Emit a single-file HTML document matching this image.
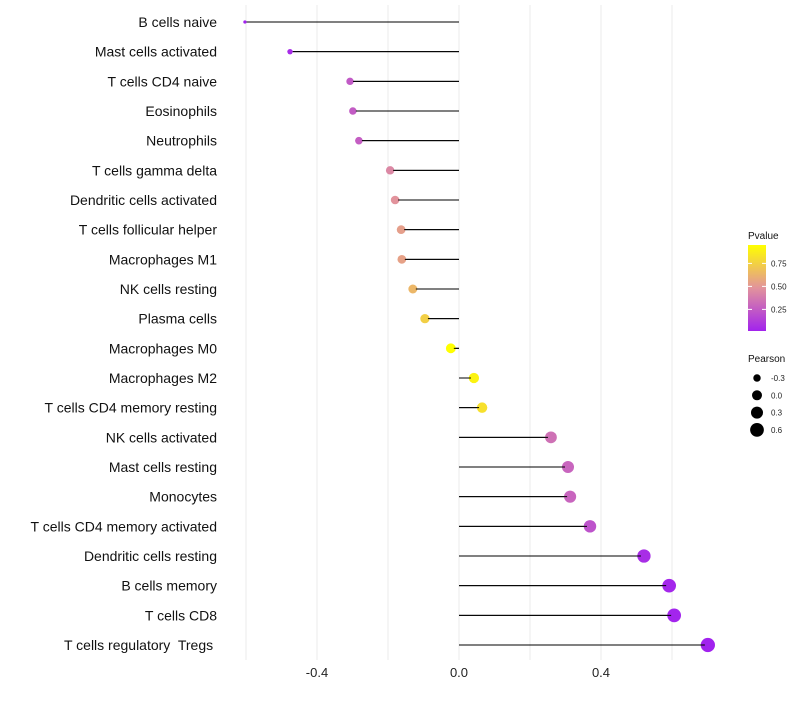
<!DOCTYPE html>
<html><head><meta charset="utf-8"><style>
body{margin:0;background:#fff;font-family:"Liberation Sans",sans-serif}
text{white-space:pre}
</style></head><body>
<svg id="chart" width="800" height="700" xmlns="http://www.w3.org/2000/svg"></svg>
<script>
const categories=["B cells naive","Mast cells activated","T cells CD4 naive","Eosinophils","Neutrophils","T cells gamma delta","Dendritic cells activated","T cells follicular helper","Macrophages M1","NK cells resting","Plasma cells","Macrophages M0","Macrophages M2","T cells CD4 memory resting","NK cells activated","Mast cells resting","Monocytes","T cells CD4 memory activated","Dendritic cells resting","B cells memory","T cells CD8","T cells regulatory  Tregs "];
const pearson=[-0.603,-0.476,-0.307,-0.299,-0.282,-0.194,-0.180,-0.163,-0.161,-0.130,-0.096,-0.023,0.042,0.065,0.259,0.307,0.313,0.369,0.521,0.592,0.606,0.701];
const pvalue=[0.01,0.05,0.25,0.26,0.27,0.45,0.5,0.55,0.56,0.65,0.75,0.95,0.9,0.82,0.35,0.3,0.3,0.22,0.06,0.03,0.02,0.01];
const xTicks=[-0.4,0.0,0.4];
const xMinor=[-0.6,-0.2,0.2,0.6];
const legendSizes=[-0.3,0.0,0.3,0.6];
const pTicks=[0.25,0.5,0.75];

const svg=document.getElementById('chart');
const NS='http://www.w3.org/2000/svg';
const x=v=>459+v*355;
const y=i=>22+i*(623/21);
const r=v=>Math.sqrt(Math.max(1,25+37*v));
function lerp(a,b,t){return a.map((c,k)=>Math.round(c+(b[k]-c)*t));}
function col(p){const s0=[160,32,240],s1=[226,147,156],s2=[255,255,0];
 let c=p<0.5?lerp(s0,s1,p/0.5):lerp(s1,s2,Math.min(1,(p-0.5)/0.45));return `rgb(${c})`;}
function el(t,a){const e=document.createElementNS(NS,t);for(const k in a)e.setAttribute(k,a[k]);svg.appendChild(e);return e;}
[...xTicks,...xMinor].forEach(v=>{const g=el('line',{x1:x(v),x2:x(v),y1:5,y2:660,stroke:'#ebebeb','stroke-width':1});

});
xTicks.forEach(v=>{const t=el('text',{x:x(v),y:677,'text-anchor':'middle','font-size':13,fill:'#222'});t.textContent=v.toFixed(1);

});
categories.forEach((c,i)=>{
 const t=el('text',{x:217,y:y(i)+5,'text-anchor':'end','font-size':14,fill:'#111'});t.textContent=c;
 
 
 const l=el('line',{x1:x(0),x2:x(pearson[i]),y1:y(i),y2:y(i),stroke:'#000','stroke-width':1});
 
 
 const p=el('circle',{cx:x(pearson[i]),cy:y(i),r:r(pearson[i]),fill:col(pvalue[i])});
 
 
 const l2=el('line',{x1:x(0),x2:x(pearson[i])+(pearson[i]<0?3:-3),y1:y(i),y2:y(i),stroke:'#000','stroke-width':1});
 
 
});
let tt=el('text',{x:748,y:239,'font-size':10,fill:'#111'});tt.textContent='Pvalue';


const defs=el('defs',{});
const lg=document.createElementNS(NS,'linearGradient');lg.setAttribute('id','pg');lg.setAttribute('x1','0');lg.setAttribute('y1','1');lg.setAttribute('x2','0');lg.setAttribute('y2','0');
[[0,0.015],[0.5,0.5],[1,0.95]].forEach(([o,p])=>{const s=document.createElementNS(NS,'stop');s.setAttribute('offset',o);s.setAttribute('stop-color',col(p));lg.appendChild(s);});
defs.appendChild(lg);
const cb=el('rect',{x:748,y:245,width:18,height:86,fill:'url(#pg)'});


const py=p=>331-(p-0.015)*(86/0.935);
pTicks.forEach(p=>{const t=el('text',{x:771,y:py(p)+3,'font-size':8,fill:'#222'});t.textContent=p.toFixed(2);


el('line',{x1:748,x2:752,y1:py(p),y2:py(p),stroke:'#fff'});el('line',{x1:762,x2:766,y1:py(p),y2:py(p),stroke:'#fff'});});
let st=el('text',{x:748,y:362,'font-size':10,fill:'#111'});st.textContent='Pearson';


legendSizes.forEach((v,k)=>{const cy=378+k*17.3;
 const c=el('circle',{cx:757,cy:cy,r:r(v),fill:'#000'});
 
 
 const t=el('text',{x:771,y:cy+3,'font-size':8,fill:'#222'});t.textContent=v.toFixed(1);
 
 });
</script>
</body></html>
